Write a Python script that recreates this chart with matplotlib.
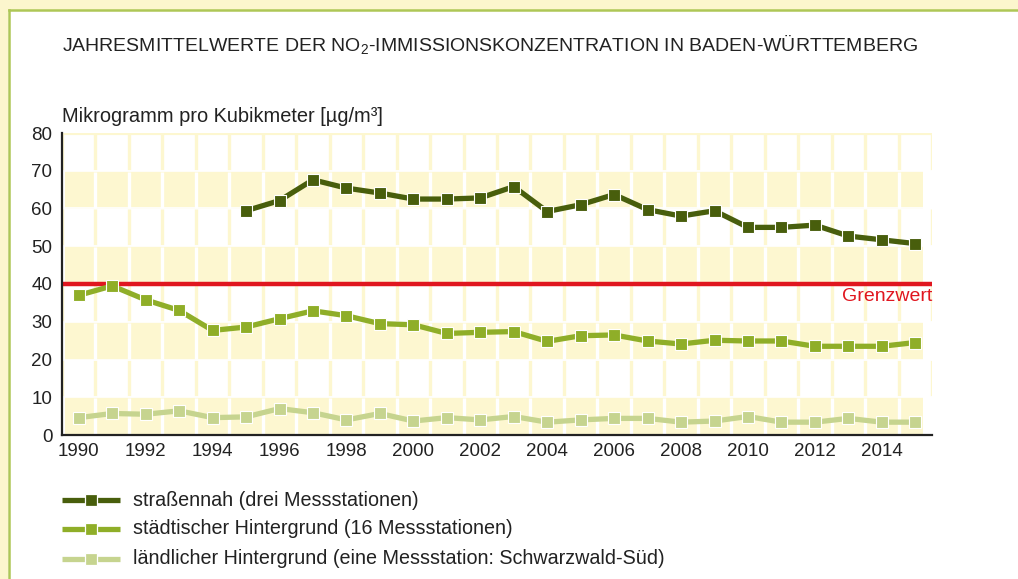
import matplotlib
matplotlib.use("Agg")
import matplotlib.pyplot as plt
from matplotlib.patches import Rectangle
from matplotlib.lines import Line2D

plt.rcParams['font.family'] = ['Liberation Sans', 'DejaVu Sans']
plt.rcParams['mathtext.fontset'] = 'custom'
plt.rcParams['mathtext.rm'] = 'Liberation Sans'
plt.rcParams['mathtext.it'] = 'Liberation Sans'

years = list(range(1990, 2016))
years_strasse = list(range(1995, 2016))
strassennah = [59.4, 62.1, 67.6, 65.4, 64.1, 62.5, 62.5, 62.8, 65.8, 59.2, 61.0,
               63.7, 59.7, 58.0, 59.4, 55.0, 55.0, 55.6, 52.7, 51.7, 50.7]
staedtisch = [37.0, 39.5, 35.8, 33.0, 27.7, 28.6, 30.8, 32.9, 31.6, 29.5, 29.2,
              26.9, 27.2, 27.4, 24.8, 26.3, 26.5, 24.9, 24.1, 25.1, 24.9, 24.9,
              23.5, 23.5, 23.5, 24.5]
laendlich = [4.6, 5.7, 5.5, 6.4, 4.6, 4.8, 7.0, 5.9, 4.0, 5.7, 3.7, 4.6, 4.0,
             4.9, 3.4, 4.0, 4.4, 4.4, 3.4, 3.7, 4.9, 3.4, 3.4, 4.4, 3.4, 3.4]
grenzwert = 40
xticks = list(range(1990, 2015, 2))
yticks = list(range(0, 81, 10))

labels = ["straßennah (drei Messstationen)",
          "städtischer Hintergrund (16 Messstationen)",
          "ländlicher Hintergrund (eine Messstation: Schwarzwald-Süd)"]
colors = ["#485e0c", "#8fae28", "#c6d48f"]

W, H = 1018, 579
fig = plt.figure(figsize=(W / 100, H / 100), dpi=100)
fig.patch.set_facecolor("white")
outer = "#fcf6cd"

# outer yellow margins (left and top) and green border
x0p, y1p = 8.5 / W, 1 - 9.5 / H
fig.add_artist(Rectangle((-0.1, -0.1), 0.1 + x0p, 1.2, transform=fig.transFigure,
                         facecolor=outer, edgecolor="none", zorder=0))
fig.add_artist(Rectangle((-0.1, y1p), 1.2, 0.2, transform=fig.transFigure,
                         facecolor=outer, edgecolor="none", zorder=0))
fig.add_artist(Line2D([x0p, x0p], [-0.1, y1p], transform=fig.transFigure,
                      color="#aec756", lw=1.8, zorder=0.1))
fig.add_artist(Line2D([x0p, 1.1], [y1p, y1p], transform=fig.transFigure,
                      color="#aec756", lw=1.8, zorder=0.1))

ax = fig.add_axes([62 / W, 1 - 435 / H, (932 - 62) / W, (435 - 133) / H])
ax.set_facecolor("white")
ax.set_xlim(1989.5, 2015.5)
ax.set_ylim(0, 80)

band_yellow = "#fdf7d0"
for y0 in range(0, 80, 10):
    yellow = (y0 // 10) % 2 == 0
    if yellow:
        ax.axhspan(y0, y0 + 10, xmin=0.004, xmax=0.99, color=band_yellow, lw=0, zorder=0)
    sep_col = "white" if yellow else band_yellow
    xs = [x + 0.5 for x in range(1989, 2016)]
    ax.vlines(xs, y0 + 0.2, y0 + 9.8, colors=sep_col, lw=2.4, zorder=0.5)
    ax.axhline(y0, color="white", lw=1.2, zorder=0.6)
ax.axhline(80, color=band_yellow, lw=3, zorder=0.5)

ax.axhline(grenzwert, color="#e0161f", lw=3.2, zorder=2)
ax.text(2015.5, grenzwert - 1.1, "Grenzwert", color="#e0161f", fontsize=14,
        ha="right", va="top", zorder=3)

lw = 3.8
ms = 9.3
for xs, ys, c in [(years, laendlich, colors[2]), (years, staedtisch, colors[1]),
                  (years_strasse, strassennah, colors[0])]:
    ax.plot(xs, ys, color=c, lw=lw, marker="s", ms=ms, mfc=c, mec="white",
            mew=0.8, zorder=4, solid_joinstyle="miter")

for s in ["top", "right"]:
    ax.spines[s].set_visible(False)
for s in ["left", "bottom"]:
    ax.spines[s].set_color("#222222")
    ax.spines[s].set_linewidth(1.6)
    ax.spines[s].set_zorder(5)

ax.set_xticks(xticks)
ax.set_yticks(yticks)
ax.tick_params(length=0, labelsize=13.5, colors="#222222", pad=6)
ax.tick_params(axis="y", pad=7)

fig.text(62 / W, 1 - 45 / H, "JAHRESMITTELWERTE DER NO$_2$-IMMISSIONSKONZENTRATION IN BADEN-WÜRTTEMBERG",
         fontsize=14, color="#222222", ha="left", va="center")
fig.text(62 / W, 1 - 116 / H, "Mikrogramm pro Kubikmeter [µg/m³]",
         fontsize=14.4, color="#222222", ha="left", va="center")

rows = [500, 529, 559]
for lab, c, yy in zip(labels, colors, rows):
    yf = 1 - yy / H
    fig.add_artist(Line2D([62 / W, 120 / W], [yf, yf], transform=fig.transFigure,
                          color=c, lw=3.8, solid_capstyle="butt"))
    fig.add_artist(Line2D([91 / W], [yf], transform=fig.transFigure, color=c,
                          marker="s", ms=8.5, mfc=c, mec="white", mew=0.9, lw=0))
    fig.text(133 / W, yf, lab, fontsize=14.2, color="#222222", ha="left", va="center")

fig.savefig("out.png", dpi=100, facecolor=fig.get_facecolor())
